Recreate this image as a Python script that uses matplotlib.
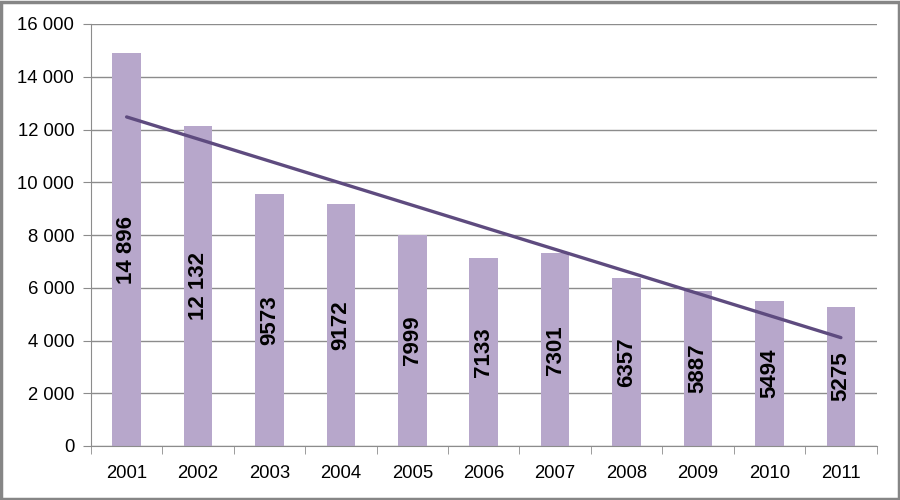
import numpy as np
import matplotlib.pyplot as plt
from matplotlib.ticker import FuncFormatter, MultipleLocator, FixedLocator

# ------------------------------------------------------
# Data
# ------------------------------------------------------
years = ['2001', '2002', '2003', '2004', '2005', '2006',
         '2007', '2008', '2009', '2010', '2011']
values = [14896, 12132, 9573, 9172, 7999, 7133, 7301, 6357, 5887, 5494, 5275]

BAR_COLOR = '#B7A7CB'
LINE_COLOR = '#5E4B7F'
GRID_COLOR = '#8C8C8C'


def bar_label(v):
    # Excel-style: only five-digit numbers got the space separator
    return f"{v:,}".replace(",", " ") if v >= 10000 else str(v)


def plot_chart():
    plt.rcParams['font.family'] = ['Liberation Sans', 'DejaVu Sans']

    fig = plt.figure(figsize=(9, 5), dpi=100)
    ax = fig.add_axes([0.101, 0.108, 0.873, 0.844])

    x = np.arange(len(years))
    ax.bar(x, values, width=0.4, color=BAR_COLOR, zorder=2)

    # value labels, rotated, centred in each bar
    for xi, v in zip(x, values):
        ax.text(xi, v / 2, bar_label(v), rotation=90, ha='center', va='center',
                fontsize=16, fontweight='bold', color='black', zorder=4)

    # linear trend line
    k, b = np.polyfit(x, values, 1)
    ax.plot([x[0], x[-1]], [k * x[0] + b, k * x[-1] + b],
            color=LINE_COLOR, linewidth=2.4, solid_capstyle='round', zorder=3)

    # ----------- axes styling -----------------------
    ax.set_xlim(-0.5, len(years) - 0.5)
    ax.set_ylim(0, 16000)
    ax.yaxis.set_major_locator(MultipleLocator(2000))
    ax.yaxis.set_major_formatter(
        FuncFormatter(lambda v, p: f"{int(v):,}".replace(",", " ")))
    ax.set_xticks(x)
    ax.set_xticklabels(years)
    ax.xaxis.set_minor_locator(FixedLocator(np.arange(-0.5, len(years), 1)))
    ax.tick_params(axis='x', which='major', length=0, pad=14, labelsize=13.3)
    ax.tick_params(axis='x', which='minor', length=6, color=GRID_COLOR)
    ax.tick_params(axis='y', length=6, color=GRID_COLOR, pad=6, labelsize=13.3)

    ax.grid(axis='y', color=GRID_COLOR, linewidth=1, zorder=0)
    ax.set_axisbelow(True)
    for side in ('top', 'right'):
        ax.spines[side].set_visible(False)
    for side in ('left', 'bottom'):
        ax.spines[side].set_color(GRID_COLOR)

    # grey outer frame
    fig.patches.append(plt.Rectangle((0.0015, 0.003), 0.997, 0.994,
                                     transform=fig.transFigure, fill=False,
                                     edgecolor='#868686', linewidth=2.5))

    fig.savefig('out.png', dpi=100)


if __name__ == "__main__":
    plot_chart()
